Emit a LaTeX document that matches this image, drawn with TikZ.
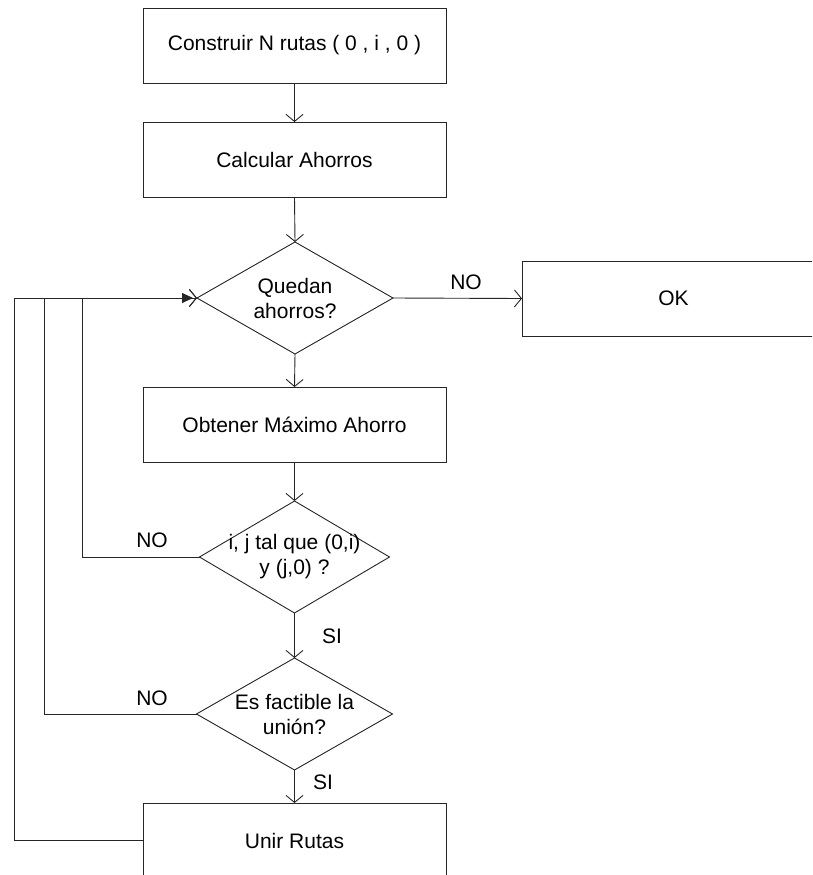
\documentclass[tikz,border=0pt]{standalone}
\usepackage{fontspec}
\setmainfont{Liberation Sans}
\usetikzlibrary{shapes.geometric,arrows.meta}
\begin{document}
\begin{tikzpicture}[x=1pt,y=-1pt,
  font=\fontsize{21}{25}\selectfont,
  line/.style={draw=black!85, line width=0.9pt},
  flow/.style={line, -{Straight Barb[length=7pt,width=17pt,line width=0.9pt]}},
  filledflow/.style={line, -{Triangle[length=11pt,width=10pt]}, shorten >=4pt},
  procbox/.style={line, rectangle, minimum width=303pt, minimum height=75pt,
    inner sep=0pt, outer sep=0pt, align=center},
  decision/.style={line, diamond, aspect=1.74, minimum width=196pt,
    minimum height=112pt, inner sep=0pt, outer sep=0pt},
  question/.style={label={[align=center, inner sep=0pt]center:#1}},
  tag/.style={inner sep=0pt}]
\useasboundingbox (0,0) rectangle (812,875);
\clip (0,0) rectangle (812,875);

% process boxes and decisions (decision text sits on top of a fixed diamond)
\node[procbox] (b1) at (294.5,45.5) {Construir N rutas ( 0 , i , 0 )};
\node[procbox] (b2) at (294.5,159.5) {Calcular Ahorros};
\node[decision, question={Quedan\\ahorros?}] (d1) at (295,298) {};
\node[procbox] (ok) at (673.5,298.5) {OK};
\node[procbox] (b3) at (294.5,424.5) {Obtener Máximo Ahorro};
\node[decision, minimum width=190pt, question={i, j tal que (0,i)\\y (j,0) ?}] (d2) at (294.5,557) {};
\node[decision, question={Es factible la\\unión?}] (d3) at (294.5,714) {};
\node[procbox] (b4) at (294.5,840.5) {Unir Rutas};

% return corners on the left
\coordinate (r1) at (82,298);
\coordinate (r2) at (44,298);
\coordinate (r3) at (14,298);

% main flow
\draw[flow] (b1.south) -- (b2.north);
\draw[flow] (b2.south) -- (d1.north);
\draw[flow] (d1.east) -- (ok.west);
\draw[flow] (d1.south) -- (b3.north);
\draw[flow] (b3.south) -- (d2.north);
\draw[flow] (d2.south) -- (d3.north);
\draw[flow] (d3.south) -- (b4.north);

% loops back to the first decision
\draw[flow] (d2.west) -| (r1) -- (d1.west);
\draw[flow] (d3.west) -| (r2) -- (d1.west);
\draw[line] (b4.west) -| (r3) -- (d1.west);
\draw[filledflow] (r1) -- (d1.west);

% branch labels
\node[tag] at (466,282) {NO};
\node[tag] at (152,540) {NO};
\node[tag] at (152,698) {NO};
\node[tag] at (332,636) {SI};
\node[tag] at (323,782) {SI};
\end{tikzpicture}
\end{document}
